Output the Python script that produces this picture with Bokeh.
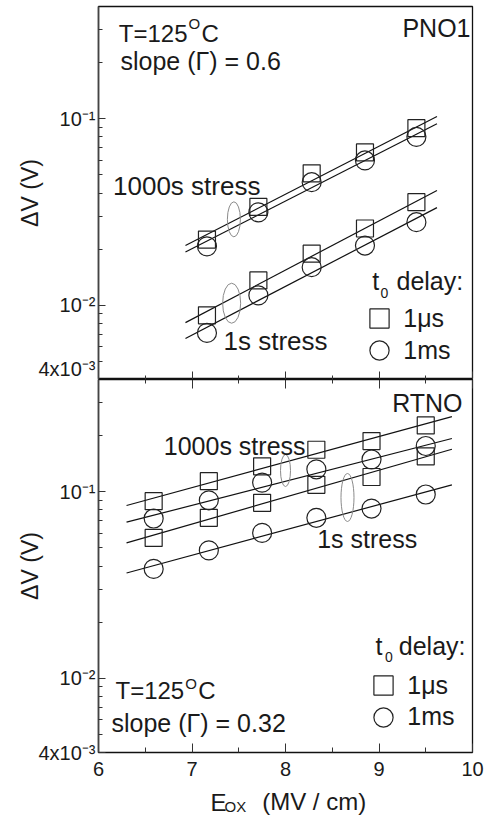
import math
from bokeh.plotting import figure
from bokeh.models import (Range1d, FixedTicker, LinearAxis, Label, Legend,
                          LegendItem, CustomJSTickFormatter)
from bokeh.layouts import column
from bokeh.embed import file_html
from bokeh.resources import INLINE

# ---------------- data ----------------
x_ticks = [6, 7, 8, 9, 10]
x_minor = [6.5, 7.5, 8.5, 9.5]
y_ticks = [0.004, 0.01, 0.1]
y_tick_labels = ["4x10\u207b\u00b3", "10\u207b\u00b2", "10\u207b\u00b9"]
y_minor = [0.005, 0.006, 0.007, 0.008, 0.009,
           0.02, 0.03, 0.04, 0.05, 0.06, 0.07, 0.08, 0.09,
           0.2, 0.3]

# PNO1 (top panel)
pno_x = [7.16, 7.71, 8.28, 8.85, 9.40]
pno_1000s_1us = [0.0225, 0.0337, 0.051, 0.066, 0.089]
pno_1000s_1ms = [0.0207, 0.0315, 0.0457, 0.0598, 0.080]
pno_1s_1us = [0.00883, 0.0136, 0.0189, 0.0258, 0.0357]
pno_1s_1ms = [0.00711, 0.0113, 0.0160, 0.0209, 0.0279]
pno_fit_x = [6.93, 9.62]
pno_fit_1000s_1us = [0.0209, 0.1028]
pno_fit_1000s_1ms = [0.0193, 0.094]
pno_fit_1s_1us = [0.00807, 0.0413]
pno_fit_1s_1ms = [0.00664, 0.0334]
pno_ell_x = [7.448, 7.424]
pno_ell_y = [0.0289, 0.01026]
pno_ell_w = [13, 18]
pno_ell_h = [35, 40]

# RTNO (bottom panel)
rtno_x = [6.59, 7.18, 7.75, 8.33, 8.92, 9.50]
rtno_1000s_1us = [0.089, 0.114, 0.137, 0.168, 0.187, 0.227]
rtno_1000s_1ms = [0.0719, 0.090, 0.112, 0.132, 0.149, 0.176]
rtno_1s_1us = [0.0566, 0.0725, 0.0873, 0.109, 0.120, 0.155]
rtno_1s_1ms = [0.0386, 0.0485, 0.0602, 0.0725, 0.0813, 0.0967]
rtno_fit_x = [6.30, 9.78]
rtno_fit_1000s_1us = [0.0844, 0.253]
rtno_fit_1000s_1ms = [0.0687, 0.193]
rtno_fit_1s_1us = [0.0532, 0.169]
rtno_fit_1s_1ms = [0.0367, 0.109]
rtno_ell_x = [8.0, 8.663]
rtno_ell_y = [0.130, 0.0932]
rtno_ell_w = [10, 13]
rtno_ell_h = [32, 48]

FONT = "Liberation Sans"
INK = "#1a1a1a"
LEFT = 98


def make_fig(height, btop, bbot, show_x_labels):
    p = figure(width=495, height=height, x_range=Range1d(6, 10),
               y_range=Range1d(0.004, 0.4), y_axis_type="log",
               x_axis_location=("below" if show_x_labels else None),
               output_backend="svg", toolbar_location=None,
               min_border_left=LEFT, min_border_right=23,
               min_border_top=btop, min_border_bottom=bbot)
    p.grid.visible = False
    p.outline_line_color = "#111111"
    p.outline_line_width = 1.3
    p.background_fill_color = "white"
    p.border_fill_color = "white"
    ya = p.yaxis[0]
    ya.ticker = FixedTicker(ticks=y_ticks, minor_ticks=y_minor)
    ya.formatter = CustomJSTickFormatter(
        args=dict(vals=y_ticks, labs=y_tick_labels),
        code="""
        for (let i = 0; i < vals.length; i++) {
            if (Math.abs(tick / vals[i] - 1) < 1e-6) return labs[i];
        }
        return "";
        """)
    ya.major_tick_in = 7
    ya.major_tick_out = 0
    ya.minor_tick_in = 4
    ya.minor_tick_out = 0
    ya.major_label_standoff = 3
    ya.major_label_text_font = FONT
    ya.major_label_text_font_size = "20px"
    ya.major_label_text_color = INK
    ya.axis_line_color = "#444444"
    ya.axis_line_width = 1.6
    ya.major_tick_line_color = "#333333"
    ya.minor_tick_line_color = "#333333"
    ya.axis_label = "\u0394V (V)"
    ya.axis_label_text_font = FONT
    ya.axis_label_text_font_size = "23px"
    ya.axis_label_text_font_style = "normal"
    ya.axis_label_text_color = INK
    ya.axis_label_standoff = -8
    return p


def tick_only_axes(p, side, major_len, minor_len):
    # axes that carry tick marks only (no labels) on a shared edge
    for vals, ln in ((x_ticks, major_len), (x_minor, minor_len)):
        ax = LinearAxis(ticker=FixedTicker(ticks=[], minor_ticks=vals),
                        minor_tick_in=ln, minor_tick_out=0,
                        major_tick_in=0, major_tick_out=0,
                        major_label_standoff=0, axis_line_color="#111111",
                        minor_tick_line_color="#333333")
        p.add_layout(ax, side)


def txt(p, s, px, py, fb, size=25, align="left", left=LEFT):
    # py is the vertical centre of the capitals, in page pixels
    p.add_layout(Label(x=px - left, y=fb - py, x_units="screen",
                       y_units="screen", text=s, text_font=FONT,
                       text_font_size=f"{size}px", text_color=INK,
                       text_align=align, text_baseline="middle"))


def temp_label(p, px, pc, po, fb, size=24):
    txt(p, "T=125", px, pc, fb, size)
    ox = px + 2.863 * size + 1
    txt(p, "O", ox, po, fb, round(size * 0.62))
    txt(p, "C", ox + 0.778 * size * 0.62 + 1.5, pc, fb, size)


def series(p, x, fits_x, sq1000, ci1000, sq1, ci1, f1, f2, f3, f4,
           ex, ey, ew, eh):
    for fy in (f1, f2, f3, f4):
        p.line(fits_x, fy, line_color="#111111", line_width=1.2)
    rs = p.scatter(x, sq1000, marker="square", size=17, fill_color=None,
                   line_color="#222222", line_width=1.2)
    rc = p.scatter(x, ci1000, marker="circle", size=19, fill_color=None,
                   line_color="#222222", line_width=1.2)
    p.scatter(x, sq1, marker="square", size=17, fill_color=None,
              line_color="#222222", line_width=1.2)
    p.scatter(x, ci1, marker="circle", size=19, fill_color=None,
              line_color="#222222", line_width=1.2)
    p.ellipse(x=ex, y=ey, width=ew, height=eh, width_units="screen",
              height_units="screen", fill_color=None, line_color="#8a8a8a",
              line_width=1)
    return rs, rc


def legend_pair(p, rs, rc, cx, sq_y, ci_y, fb):
    for r, lab, cy in ((rs, "1\u03bcs", sq_y), (rc, "1ms", ci_y)):
        lg = Legend(items=[LegendItem(label=lab, renderers=[r])],
                    location=(cx - 24 - LEFT, fb - cy - 24),
                    glyph_width=48, glyph_height=48, label_standoff=0,
                    padding=0, margin=0, spacing=0, border_line_color=None,
                    background_fill_alpha=0, label_text_font=FONT,
                    label_text_font_size="25px", label_text_color=INK)
        p.add_layout(lg)


# ---------------- top panel ----------------
p1 = make_fig(379, 6, 0, False)
FB1 = 379
tick_only_axes(p1, "below", 8, 4)

rs1, rc1 = series(p1, pno_x, pno_fit_x, pno_1000s_1us, pno_1000s_1ms,
                  pno_1s_1us, pno_1s_1ms, pno_fit_1000s_1us,
                  pno_fit_1000s_1ms, pno_fit_1s_1us, pno_fit_1s_1ms,
                  pno_ell_x, pno_ell_y, pno_ell_w, pno_ell_h)

temp_label(p1, 118.3, 33.3, 23.0, FB1)
txt(p1, "slope (\u0393) = 0.6", 120.0, 60.5, FB1, 25)
txt(p1, "PNO1", 470, 27.7, FB1, 25, align="right")
txt(p1, "1000s stress", 112.5, 185.8, FB1, 26)
txt(p1, "1s stress", 223.0, 340.3, FB1, 26)
txt(p1, "t", 371.7, 280.0, FB1, 25)
txt(p1, "0", 380.0, 292.0, FB1, 14)
txt(p1, "delay:", 396.0, 280.0, FB1, 25)
legend_pair(p1, rs1, rc1, 379.3, 318.3, 350.0, FB1)

# ---------------- bottom panel ----------------
p2 = make_fig(405, 0, 32, True)
FB2 = 752
xa2 = p2.xaxis[0]
xa2.ticker = FixedTicker(ticks=x_ticks, minor_ticks=x_minor)
xa2.major_tick_out = 0
xa2.minor_tick_out = 0
xa2.major_tick_in = 9
xa2.minor_tick_in = 5
xa2.axis_line_color = "#111111"
xa2.major_tick_line_color = "#333333"
xa2.minor_tick_line_color = "#333333"
xa2.major_label_text_font = FONT
xa2.major_label_text_font_size = "20px"
xa2.major_label_text_color = INK
xa2.major_label_standoff = 9
tick_only_axes(p2, "above", 9, 4)

rs2, rc2 = series(p2, rtno_x, rtno_fit_x, rtno_1000s_1us, rtno_1000s_1ms,
                  rtno_1s_1us, rtno_1s_1ms, rtno_fit_1000s_1us,
                  rtno_fit_1000s_1ms, rtno_fit_1s_1us, rtno_fit_1s_1ms,
                  rtno_ell_x, rtno_ell_y, rtno_ell_w, rtno_ell_h)

txt(p2, "RTNO", 462.0, 402.0, FB2, 25, align="right")
txt(p2, "1000s stress", 163.3, 445.0, FB2, 25)
txt(p2, "1s stress", 316.7, 538.3, FB2, 25)
txt(p2, "t", 375.0, 645.0, FB2, 25)
txt(p2, "0", 384.5, 656.7, FB2, 14)
txt(p2, "delay:", 398.3, 645.0, FB2, 25)
legend_pair(p2, rs2, rc2, 383.3, 685.0, 716.7, FB2)
temp_label(p2, 115.0, 690.0, 683.3, FB2)
txt(p2, "slope (\u0393) = 0.32", 111.0, 722.0, FB2, 25)

# ---------------- x-axis title strip ----------------
p3 = figure(width=495, height=32, x_range=Range1d(6, 10),
            y_range=Range1d(0, 1), x_axis_location=None,
            y_axis_location=None, output_backend="svg", title=None,
            toolbar_location=None, min_border_left=LEFT,
            min_border_right=23, min_border_top=0, min_border_bottom=0)
p3.grid.visible = False
p3.outline_line_color = None
p3.background_fill_color = "white"
p3.border_fill_color = "white"
FB3 = 816
txt(p3, "E", 210.0, 801.7, FB3, 24)
txt(p3, "OX", 224.0, 805.5, FB3, 15)
txt(p3, "(MV / cm)", 261.7, 801.0, FB3, 24)

layout = column(p1, p2, p3, spacing=0)
open("out.html", "w").write(file_html(layout, INLINE))
